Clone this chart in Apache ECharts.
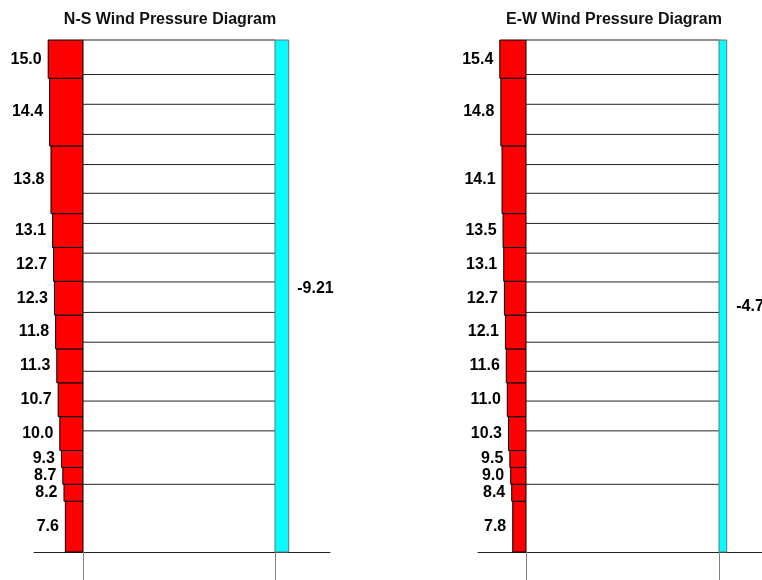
<!DOCTYPE html>
<html>
<head>
<meta charset="utf-8">
<script src="https://cdn.jsdelivr.net/npm/echarts@6/dist/echarts.min.js"></script>
<style>
html,body{margin:0;padding:0;background:#fff;}
#chart{width:762px;height:580px;}
</style>
</head>
<body>
<div id="chart"></div>
<script>
// ---- data ----
const ZONE_TOPS = [15, 20, 25, 30, 40, 50, 60, 70, 80, 90, 100, 120, 140, 151.3]; // ft
const NS_WINDWARD = [7.6, 8.2, 8.7, 9.3, 10.0, 10.7, 11.3, 11.8, 12.3, 12.7, 13.1, 13.8, 14.4, 15.0];
const EW_WINDWARD = [7.8, 8.4, 9.0, 9.5, 10.3, 11.0, 11.6, 12.1, 12.7, 13.1, 13.5, 14.1, 14.8, 15.4];
const NS_LEEWARD = -9.21;
const EW_LEEWARD = -4.73;
const FLOOR_HEIGHTS = [20.0, 35.8, 44.6, 53.4, 62.0, 70.8, 79.8, 88.3, 97.1, 106.0, 114.5, 123.4, 132.3, 141.1, 151.3];
const ROOF_HEIGHT = 151.3;
const TITLES = ['N-S Wind Pressure Diagram', 'E-W Wind Pressure Diagram'];

const FONT = 'Liberation Sans, Arial, sans-serif';

function zoneData(values) {
  return values.map((v, i) => [v, i === 0 ? 0 : ZONE_TOPS[i - 1], ZONE_TOPS[i]]);
}

function windwardRender(params, api) {
  const v = api.value(0), b = api.value(1), t = api.value(2);
  const p0 = api.coord([0, b]);
  const p1 = api.coord([v, t]);
  const x = Math.min(p0[0], p1[0]);
  return {
    type: 'rect',
    shape: { x: x, y: p1[1], width: Math.abs(p0[0] - p1[0]), height: p0[1] - p1[1] },
    style: { fill: '#ff0000', stroke: '#000000', lineWidth: 1 },
    textContent: {
      style: { text: v.toFixed(1), fill: '#000', font: 'bold 16px ' + FONT }
    },
    textConfig: { position: 'left', distance: 6 }
  };
}

function leewardRender(offsetY, dist) {
  return function (params, api) {
    const v = api.value(0), b = api.value(1), t = api.value(2);
    const p0 = api.coord([0, b]);
    const p1 = api.coord([Math.abs(v), t]);
    return {
      type: 'rect',
      shape: { x: p0[0], y: p1[1], width: p1[0] - p0[0], height: p0[1] - p1[1] },
      style: { fill: '#00ffff', stroke: '#707070', lineWidth: 1 },
      textContent: {
        style: { text: String(v), fill: '#000', font: 'bold 16px ' + FONT }
      },
      textConfig: { position: 'right', distance: dist, offset: [0, offsetY] }
    };
  };
}

function floorRender(params, api) {
  const h = api.value(0);
  const a = api.coord([0, h]);
  const c = api.coord([1, h]);
  return {
    type: 'line',
    shape: { x1: a[0], y1: a[1], x2: c[0], y2: c[1] },
    style: { stroke: '#222', lineWidth: 1 }
  };
}

const panels = [
  { bldLeft: 83, bldWidth: 192, redScale: 2.32, cyanScale: 1.49, groundLeft: 34, groundWidth: 296,
    windward: NS_WINDWARD, leeward: NS_LEEWARD, labelOffset: -7, labelDist: 8, titleX: 170 },
  { bldLeft: 526, bldWidth: 193, redScale: 1.70, cyanScale: 1.63, groundLeft: 478, groundWidth: 320,
    windward: EW_WINDWARD, leeward: EW_LEEWARD, labelOffset: 11, labelDist: 9, titleX: 614 }
];

const TOP = 40, HEIGHT = 512;
const RED_MAX = 20, CYAN_MAX = 10;

const grid = [], xAxis = [], yAxis = [], series = [], title = [];

panels.forEach((p, k) => {
  title.push({
    text: TITLES[k], left: p.titleX, top: 12, textAlign: 'center', padding: 0,
    textStyle: { fontFamily: FONT, fontWeight: 'bold', fontSize: 16, color: '#111' }
  });
  const base = grid.length;
  grid.push({ left: p.groundLeft, top: TOP, width: p.groundWidth, height: HEIGHT });
  grid.push({ left: p.bldLeft, top: TOP, width: p.bldWidth, height: HEIGHT });
  const rw = RED_MAX * p.redScale;
  grid.push({ left: p.bldLeft - rw, top: TOP, width: rw, height: HEIGHT });
  grid.push({ left: p.bldLeft + p.bldWidth, top: TOP, width: CYAN_MAX * p.cyanScale, height: HEIGHT });

  xAxis.push({ gridIndex: base, type: 'value', min: 0, max: 1, axisLine: { show: true, lineStyle: { color: '#222', width: 1 } },
    axisTick: { show: false }, axisLabel: { show: false }, splitLine: { show: false } });
  xAxis.push({ gridIndex: base + 1, type: 'value', min: 0, max: 1, interval: 1, axisLine: { show: false },
    axisTick: { show: true, length: 28, lineStyle: { color: '#808080', width: 1 } },
    axisLabel: { show: false }, splitLine: { show: false } });
  xAxis.push({ gridIndex: base + 2, type: 'value', min: 0, max: RED_MAX, inverse: true, show: false });
  xAxis.push({ gridIndex: base + 3, type: 'value', min: 0, max: CYAN_MAX, show: false });
  for (let g = 0; g < 4; g++) {
    yAxis.push({ gridIndex: base + g, type: 'value', min: 0, max: ROOF_HEIGHT, show: false });
  }

  series.push({
    type: 'custom', xAxisIndex: base + 1, yAxisIndex: base + 1, clip: false, silent: true,
    renderItem: floorRender, data: FLOOR_HEIGHTS.map(h => [h]), z: 2
  });
  series.push({
    type: 'custom', xAxisIndex: base + 2, yAxisIndex: base + 2, clip: false, silent: true,
    renderItem: windwardRender, data: zoneData(p.windward), z: 3
  });
  series.push({
    type: 'custom', xAxisIndex: base + 3, yAxisIndex: base + 3, clip: false, silent: true,
    renderItem: leewardRender(p.labelOffset, p.labelDist), data: [[p.leeward, 0, ROOF_HEIGHT]], z: 3
  });
});

const chart = echarts.init(document.getElementById('chart'), null, { renderer: 'canvas' });
chart.setOption({
  animation: false,
  backgroundColor: '#ffffff',
  title: title,
  grid: grid,
  xAxis: xAxis,
  yAxis: yAxis,
  series: series
});
</script>
</body>
</html>
